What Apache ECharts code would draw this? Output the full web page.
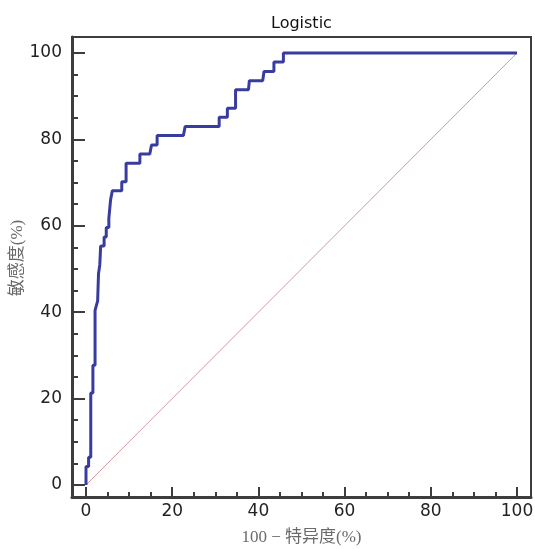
<!DOCTYPE html>
<html>
<head>
<meta charset="utf-8">
<script src="https://cdn.jsdelivr.net/npm/echarts@6/dist/echarts.min.js"></script>
<style>
  html, body { margin: 0; padding: 0; background: #fff; }
  #chart { width: 535px; height: 549px; }
</style>
</head>
<body>
<div id="chart"></div>
<script>
// ROC curve points (100 - specificity, sensitivity)
var fpr = [0, 0, 0.6, 0.6, 1.1, 1.1, 1.6, 1.6, 2.1, 2.1, 2.7, 2.9, 3.2, 3.4,
  4.2, 4.2, 4.7, 4.7, 5.3, 5.3, 5.7, 5.7, 6.1, 8.3, 8.3, 9.3, 9.3, 12.5, 12.5,
  14.8, 15.2, 16.5, 16.5, 22.6, 23.0, 30.9, 30.9, 32.8, 32.8, 34.7, 34.7, 37.7,
  37.9, 41.0, 41.3, 43.6, 43.6, 45.8, 45.8, 100];
var sens = [0, 4.3, 4.3, 6.4, 6.4, 21.3, 21.3, 27.7, 27.7, 40.4, 42.6, 48.9, 51.0, 55.3,
  55.3, 57.4, 57.4, 59.6, 59.6, 61.7, 61.7, 66.0, 68.1, 68.1, 70.2, 70.2, 74.5, 74.5, 76.6,
  76.6, 78.7, 78.7, 80.9, 80.9, 83.0, 83.0, 85.1, 85.1, 87.2, 87.2, 91.5, 91.5,
  93.6, 93.6, 95.7, 95.7, 97.9, 97.9, 100, 100];
var refX = [0, 100];
var refY = [0, 100];

var majorTicks = [0, 20, 40, 60, 80, 100];
var minorTicks = [5, 10, 15, 25, 30, 35, 45, 50, 55, 65, 70, 75, 85, 90, 95];

var axisColor = '#3d3d3d';
var labelFont = 'DejaVu Sans';
var nameFont = '"Liberation Serif", "Noto Sans CJK SC", serif';

var chart = echarts.init(document.getElementById('chart'), null, { renderer: 'canvas' });

function pairs(xs, ys) {
  var out = [];
  for (var i = 0; i < xs.length; i++) {
    out.push([xs[i], ys[i]]);
  }
  return out;
}

function mainX(isMinor) {
  return {
    type: 'value',
    min: -3.25,
    max: 103.25,
    position: 'bottom',
    name: isMinor ? '' : '100 \u2212 \u7279\u5f02\u5ea6(%)',
    nameLocation: 'middle',
    nameGap: 32,
    nameMoveOverlap: false,
    nameTextStyle: { fontFamily: nameFont, fontSize: 17, color: '#6a6a6a' },
    axisLine: { show: !isMinor, onZero: false, lineStyle: { color: axisColor, width: 3 } },
    axisTick: {
      show: true,
      inside: true,
      length: isMinor ? 5 : 10,
      customValues: isMinor ? minorTicks : majorTicks,
      lineStyle: { color: axisColor, width: 2 }
    },
    axisLabel: {
      show: !isMinor,
      customValues: majorTicks,
      fontFamily: labelFont,
      fontSize: 17,
      color: '#222',
      margin: 6
    },
    splitLine: { show: false }
  };
}

function mainY(isMinor) {
  return {
    type: 'value',
    min: -2.78,
    max: 103.7,
    position: 'left',
    name: isMinor ? '' : '\u654f\u611f\u5ea6(%)',
    nameLocation: 'middle',
    nameGap: 46,
    nameMoveOverlap: false,
    nameTextStyle: { fontFamily: nameFont, fontSize: 17, color: '#6a6a6a', padding: [0, 0, 0, 18] },
    axisLine: { show: !isMinor, onZero: false, lineStyle: { color: axisColor, width: 3 } },
    axisTick: {
      show: true,
      inside: true,
      length: isMinor ? 6 : 13,
      customValues: isMinor ? minorTicks : majorTicks,
      lineStyle: { color: axisColor, width: 2 }
    },
    axisLabel: {
      show: !isMinor,
      customValues: majorTicks,
      fontFamily: labelFont,
      fontSize: 17,
      color: '#222',
      margin: 10
    },
    splitLine: { show: false }
  };
}

var option = {
  backgroundColor: '#ffffff',
  animation: false,
  title: {
    text: 'Logistic',
    left: 266,
    top: 11,
    textStyle: { fontFamily: labelFont, fontSize: 16, fontWeight: 'normal', color: '#111' }
  },
  grid: {
    left: 72,
    right: 4,
    top: 37,
    bottom: 52,
    show: true,
    containLabel: false,
    outerBoundsMode: 'none',
    borderColor: axisColor,
    borderWidth: 2
  },
  xAxis: [mainX(false), mainX(true)],
  yAxis: [mainY(false), mainY(true)],
  series: [
    {
      type: 'line',
      data: pairs(refX, refY),
      showSymbol: false,
      silent: true,
      lineStyle: { color: '#d09aa2', width: 1 },
      z: 1
    },
    {
      type: 'line',
      data: pairs(fpr, sens),
      showSymbol: false,
      lineStyle: { color: '#383c9e', width: 3 },
      z: 2
    }
  ]
};
chart.setOption(option);
</script>
</body>
</html>
